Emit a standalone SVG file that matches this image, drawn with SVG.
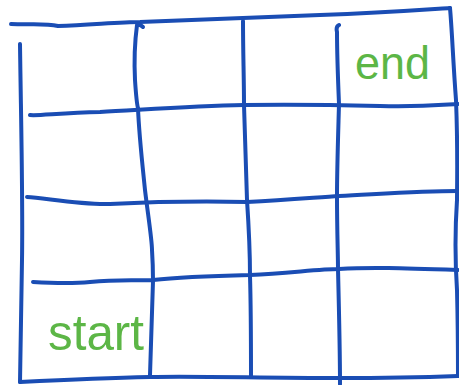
<svg xmlns="http://www.w3.org/2000/svg" width="459" height="385" viewBox="0 0 459 385">
<style>
.ln{fill:none;stroke:#1a4db4;stroke-width:4;stroke-linecap:round;stroke-linejoin:round}
.lb{fill:#5cb646;font-family:"Liberation Sans","DejaVu Sans",sans-serif}
</style>
<rect width="459" height="385" fill="#ffffff"/>
<g id="grid">
<path class="ln" d="M11,24 C30,25 45,23 58,26 C90,25 120,22 140,22 C200,20 260,17 320,15 C380,13 420,10 450,8"/>
<path class="ln" d="M450,8 C452,30 453,60 456,100 C458,150 457,190 457,200 C455,230 455,260 457,290 C458,330 458,360 458,376"/>
<path class="ln" d="M20,44 C21,120 23,200 22,260 C21,320 20,360 20,382"/>
<path class="ln" d="M20,382 C60,380 100,378 150,377 C200,376 260,378 339,378 C400,378 430,377 458,376"/>
<path class="ln" d="M30,115 C37,116 60,113 100,112 C140,110 190,106 244,105 C300,104 340,105 380,106 C420,107 440,105 458,104"/>
<path class="ln" d="M27,197 C45,198 80,205 110,204 C150,202 200,201 247,202 C290,200 320,197 339,196 C380,194 420,191 458,191"/>
<path class="ln" d="M33,282 C50,283 70,284 90,282 C120,279 140,281 153,280 C180,277 210,276 250,275 C290,273 320,269 339,269 C370,267 400,268 458,270"/>
<path class="ln" d="M143,27 C141,25 139,24 137,25 C135,40 134,60 135,80 C136,95 137,105 138,108 C139,135 143,170 145,190 C148,215 152,240 152,250 C153,265 153,275 153,281 C152,310 151,340 150,375"/>
<path class="ln" d="M243,21 C243,50 244,80 244,105 C245,140 246,170 247,200 C249,230 250,260 250,276 C251,310 251,340 251,377"/>
<path class="ln" d="M339,25 C337,26 336,28 337,32 C337,50 338,80 339,104 C338,140 337,170 337,196 C337,230 338,255 338,269 C339,310 340,350 340,384"/>
</g>
<g id="labels">
<text class="lb" x="48" y="350" font-size="50" textLength="96" lengthAdjust="spacingAndGlyphs">start</text>
<text class="lb" x="355" y="79" font-size="46" textLength="75" lengthAdjust="spacingAndGlyphs">end</text>
</g>
</svg>
